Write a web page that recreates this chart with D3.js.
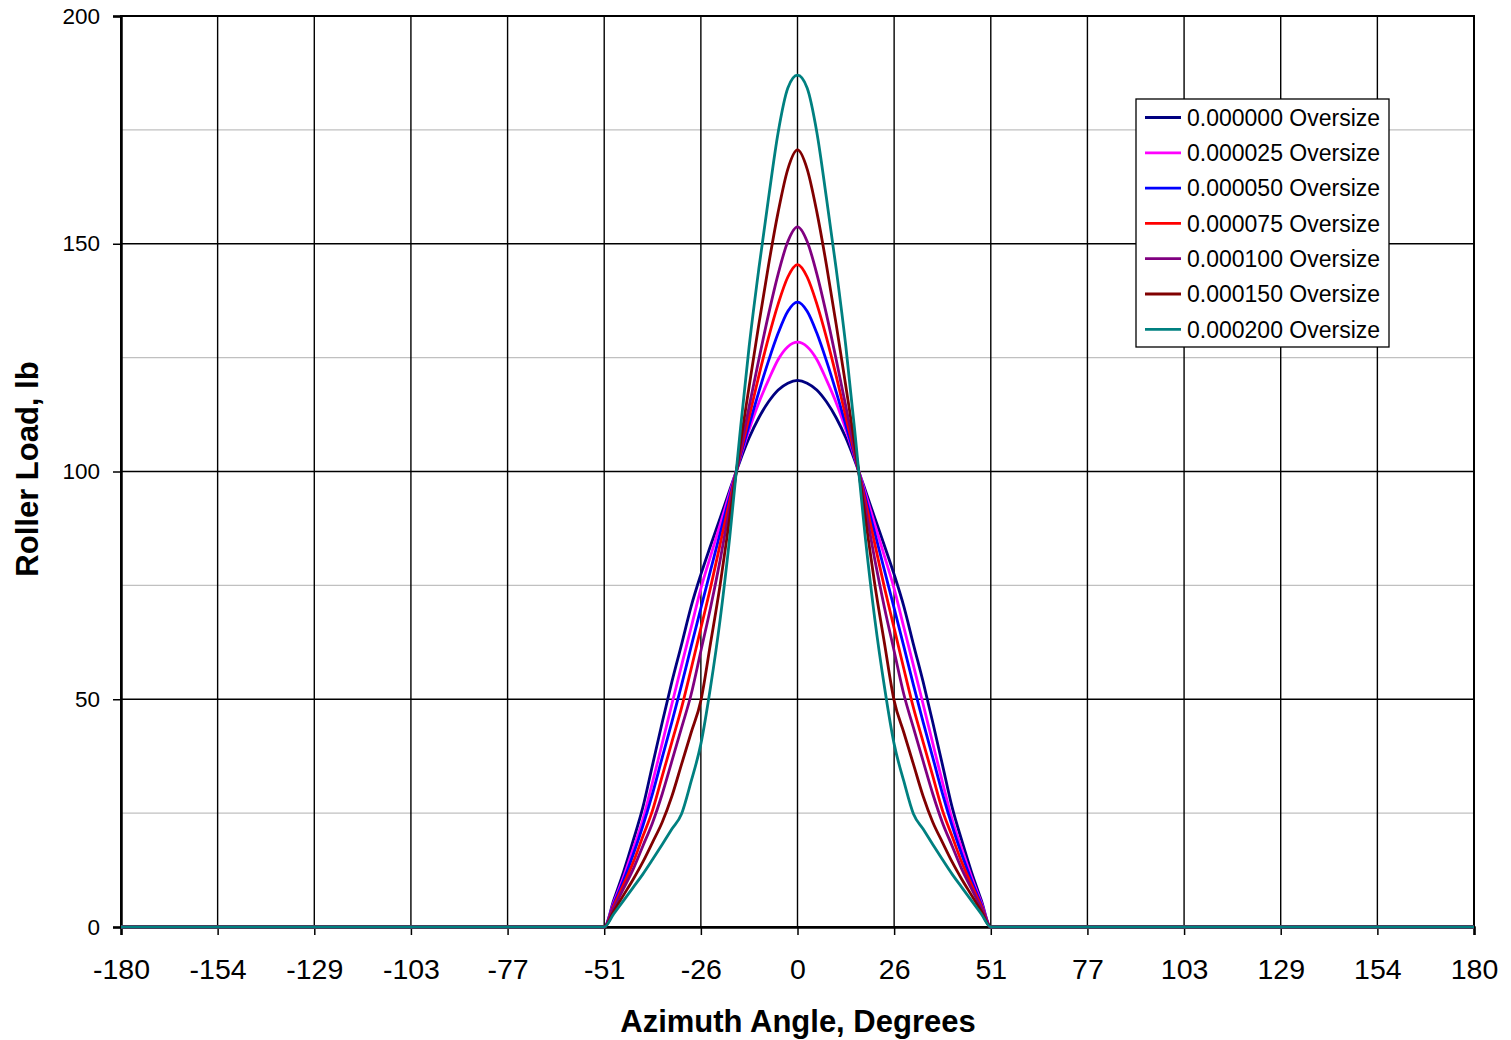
<!DOCTYPE html>
<html>
<head>
<meta charset="utf-8">
<script src="https://cdn.jsdelivr.net/npm/d3@7"></script>
<style>
  html, body { margin: 0; padding: 0; background: #fff; }
  svg { display: block; font-family: "Liberation Sans", Arial, sans-serif; }
</style>
</head>
<body>
<svg id="chart" width="1511" height="1040"></svg>
<script>
// ---------- data ----------
const angles = [-180, -51.43, -48.86, -46.29, -43.71, -41.14, -38.57, -36.00, -33.43, -30.86, -28.29,
  -25.71, -23.14, -20.57, -18.00, -15.43, -12.86, -10.29, -7.71, -5.14, -2.57, 0,
  2.57, 5.14, 7.71, 10.29, 12.86, 15.43, 18.00, 20.57, 23.14, 25.71,
  28.29, 30.86, 33.43, 36.00, 38.57, 41.14, 43.71, 46.29, 48.86, 51.43, 180];

const load000000 = [0, 0, 6.0, 12.1, 19.0, 26.3, 35.6, 44.9, 53.8, 62.0, 70.4, 77.4, 83.7, 89.8, 96.0, 102.0, 107.4, 111.8, 115.3, 117.9, 119.4, 120.0,
  119.4, 117.9, 115.3, 111.8, 107.4, 102.0, 96.0, 89.8, 83.7, 77.4, 70.4, 62.0, 53.8, 44.9, 35.6, 26.3, 19.0, 12.1, 6.0, 0, 0];
const load000025 = [0, 0, 5.5, 11.0, 17.2, 23.6, 31.8, 40.3, 48.9, 57.4, 65.8, 74.3, 81.4, 88.4, 95.4, 102.5, 109.2, 115.1, 120.1, 124.6, 127.4, 128.4,
  127.4, 124.6, 120.1, 115.1, 109.2, 102.5, 95.4, 88.4, 81.4, 74.3, 65.8, 57.4, 48.9, 40.3, 31.8, 23.6, 17.2, 11.0, 5.5, 0, 0];
const load000050 = [0, 0, 5.1, 10.2, 15.9, 22.2, 29.3, 37.2, 45.0, 53.1, 61.6, 70.0, 78.3, 86.5, 94.6, 102.7, 110.2, 117.5, 124.3, 130.4, 135.2, 137.2,
  135.2, 130.4, 124.3, 117.5, 110.2, 102.7, 94.6, 86.5, 78.3, 70.0, 61.6, 53.1, 45.0, 37.2, 29.3, 22.2, 15.9, 10.2, 5.1, 0, 0];
const load000075 = [0, 0, 4.7, 9.3, 14.2, 19.9, 25.6, 33.1, 40.6, 48.1, 56.7, 65.6, 74.5, 84.1, 93.7, 103.1, 112.0, 121.0, 129.4, 136.8, 142.7, 145.4,
  142.7, 136.8, 129.4, 121.0, 112.0, 103.1, 93.7, 84.1, 74.5, 65.6, 56.7, 48.1, 40.6, 33.1, 25.6, 19.9, 14.2, 9.3, 4.7, 0, 0];
const load000100 = [0, 0, 4.2, 8.4, 12.7, 17.8, 22.9, 29.2, 36.4, 43.7, 51.1, 60.6, 70.1, 80.6, 92.3, 103.7, 114.3, 124.6, 134.5, 143.4, 150.5, 153.7,
  150.5, 143.4, 134.5, 124.6, 114.3, 103.7, 92.3, 80.6, 70.1, 60.6, 51.1, 43.7, 36.4, 29.2, 22.9, 17.8, 12.7, 8.4, 4.2, 0, 0];
const load000150 = [0, 0, 3.5, 7.0, 10.5, 14.3, 18.6, 23.0, 28.7, 35.7, 42.7, 49.7, 62.3, 75.2, 90.1, 104.9, 118.7, 132.3, 145.3, 157.0, 166.4, 170.6,
  166.4, 157.0, 145.3, 132.3, 118.7, 104.9, 90.1, 75.2, 62.3, 49.7, 42.7, 35.7, 28.7, 23.0, 18.6, 14.3, 10.5, 7.0, 3.5, 0, 0];
const load000200 = [0, 0, 2.9, 5.8, 8.7, 11.6, 14.8, 18.1, 21.5, 24.8, 32.0, 40.2, 52.7, 67.6, 85.8, 107.3, 127.5, 144.5, 160.0, 174.5, 184.2, 187.0,
  184.2, 174.5, 160.0, 144.5, 127.5, 107.3, 85.8, 67.6, 52.7, 40.2, 32.0, 24.8, 21.5, 18.1, 14.8, 11.6, 8.7, 5.8, 2.9, 0, 0];

const seriesNames = ["0.000000 Oversize", "0.000025 Oversize", "0.000050 Oversize", "0.000075 Oversize",
  "0.000100 Oversize", "0.000150 Oversize", "0.000200 Oversize"];
const seriesColors = ["#000080", "#FF00FF", "#0000FF", "#FF0000", "#800080", "#800000", "#008080"];
const seriesValues = [load000000, load000025, load000050, load000075, load000100, load000150, load000200];

const xTickValues = [-180, -154.29, -128.57, -102.86, -77.14, -51.43, -25.71, 0, 25.71, 51.43, 77.14, 102.86, 128.57, 154.29, 180];
const xTickLabels = ["-180", "-154", "-129", "-103", "-77", "-51", "-26", "0", "26", "51", "77", "103", "129", "154", "180"];
const yMajorTicks = [0, 50, 100, 150, 200];
const yMinorTicks = [25, 75, 125, 175];

const xTitle = "Azimuth Angle, Degrees";
const yTitle = "Roller Load, lb";

// ---------- layout ----------
const L = 121, R = 1474, T = 16, B = 927;
const svg = d3.select("#chart");
svg.append("rect").attr("width", 1511).attr("height", 1040).attr("fill", "#fff");

const x = d3.scaleLinear().domain([-180, 180]).range([L, R]);
const y = d3.scaleLinear().domain([0, 200]).range([B, T]);

// grid
const grid = svg.append("g");
grid.selectAll("line.ymin").data(yMinorTicks).join("line")
  .attr("x1", L).attr("x2", R).attr("y1", d => y(d)).attr("y2", d => y(d))
  .attr("stroke", "#c0c0c0").attr("stroke-width", 1.4);
grid.selectAll("line.ymaj").data(yMajorTicks.slice(1, -1)).join("line")
  .attr("x1", L).attr("x2", R).attr("y1", d => y(d)).attr("y2", d => y(d))
  .attr("stroke", "#000").attr("stroke-width", 1.4);
grid.selectAll("line.xg").data(xTickValues.slice(1, -1)).join("line")
  .attr("x1", d => x(d)).attr("x2", d => x(d)).attr("y1", T).attr("y2", B)
  .attr("stroke", "#000").attr("stroke-width", 1.4);

// plot border
svg.append("rect").attr("x", L).attr("y", T).attr("width", R - L).attr("height", B - T)
  .attr("fill", "none").attr("stroke", "#000").attr("stroke-width", 2);

// axes
const yAxis = svg.append("g").attr("transform", `translate(${L},0)`)
  .call(d3.axisLeft(y).tickValues(yMajorTicks).tickSize(8).tickPadding(13).tickFormat(d3.format("d")));
yAxis.select(".domain").attr("stroke-width", 2.5);
yAxis.selectAll(".tick line").attr("stroke-width", 1.5);
yAxis.selectAll("text").attr("font-size", 22.5).attr("fill", "#000")
  .attr("font-family", "'Liberation Sans', Arial, sans-serif");

const xAxis = svg.append("g").attr("transform", `translate(0,${B})`)
  .call(d3.axisBottom(x).tickValues(xTickValues).tickSize(8).tickFormat((d, i) => xTickLabels[i]));
xAxis.select(".domain").attr("stroke-width", 2.5);
xAxis.selectAll(".tick line").attr("stroke-width", 1.5);
xAxis.selectAll("text").attr("font-size", 28.5).attr("fill", "#000")
  .attr("font-family", "'Liberation Sans', Arial, sans-serif")
  .attr("y", 52).attr("dy", 0);

// series
const line = d3.line().x((d, i) => x(angles[i])).y(d => y(d)).curve(d3.curveMonotoneX);
svg.append("g").selectAll("path").data(seriesValues).join("path")
  .attr("d", d => line(d))
  .attr("fill", "none")
  .attr("stroke", (d, i) => seriesColors[i])
  .attr("stroke-width", 2.8)
  .attr("stroke-linejoin", "round");

// legend
const lg = svg.append("g");
lg.append("rect").attr("x", 1136).attr("y", 99).attr("width", 253).attr("height", 248)
  .attr("fill", "#fff").attr("stroke", "#000").attr("stroke-width", 1.3);
const items = lg.selectAll("g.item").data(seriesNames).join("g")
  .attr("transform", (d, i) => `translate(0,${117.5 + i * 35.3})`);
items.append("line").attr("x1", 1145).attr("x2", 1181).attr("y1", 0).attr("y2", 0)
  .attr("stroke", (d, i) => seriesColors[i]).attr("stroke-width", 2.8);
items.append("text").attr("x", 1187).attr("y", 0).attr("dy", "0.36em")
  .attr("font-size", 23).attr("fill", "#000").text(d => d);

// titles
svg.append("text").attr("x", 798).attr("y", 1032).attr("text-anchor", "middle")
  .attr("font-size", 31).attr("font-weight", "bold").text(xTitle);
svg.append("text").attr("transform", "translate(38,469) rotate(-90)").attr("text-anchor", "middle")
  .attr("font-size", 31).attr("font-weight", "bold").text(yTitle);
</script>
</body>
</html>
